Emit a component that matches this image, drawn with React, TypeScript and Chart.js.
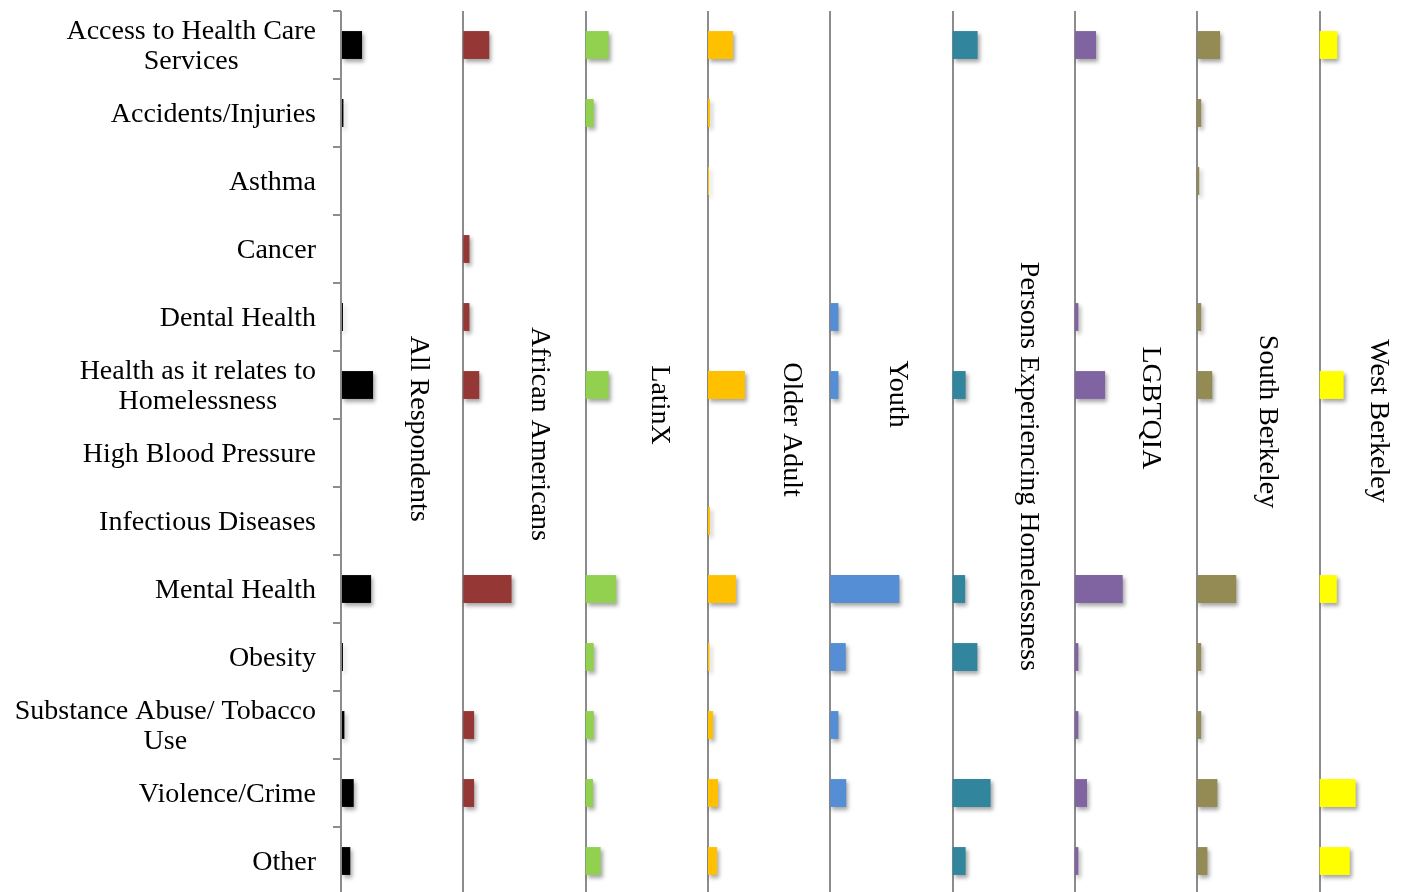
import React, { useEffect, useRef } from "react";
import { Chart, registerables } from "chart.js";

Chart.register(...registerables);

// Health issues (rows)
const categories: (string | string[])[] = [
  ["Access to Health Care", "Services"],
  "Accidents/Injuries",
  "Asthma",
  "Cancer",
  "Dental Health",
  ["Health as it relates to", "Homelessness"],
  "High Blood Pressure",
  "Infectious Diseases",
  "Mental Health",
  "Obesity",
  ["Substance Abuse/ Tobacco", "Use"],
  "Violence/Crime",
  "Other",
];

// Respondent groups (panels)
const groups = [
  "All Respondents",
  "African Americans",
  "LatinX",
  "Older Adult",
  "Youth",
  "Persons Experiencing Homelessness",
  "LGBTQIA",
  "South Berkeley",
  "West Berkeley",
];

const groupColors = [
  "#000000",
  "#953735",
  "#92D050",
  "#FFC000",
  "#558ED5",
  "#31859C",
  "#8064A2",
  "#948A54",
  "#FFFF00",
];

// Percent of respondents in each group
const allRespondents = [8.6, 1.0, 0, 0, 0.8, 13.1, 0, 0.4, 12.3, 0.8, 1.4, 5.2, 3.8];
const africanAmericans = [10.6, 0, 0, 2.5, 2.5, 6.5, 0, 0, 19.7, 0, 4.4, 4.4, 0];
const latinX = [9.4, 3.3, 0, 0, 0, 9.4, 0, 0, 12.5, 3.3, 3.3, 3.0, 6.1];
const olderAdult = [10.2, 0.8, 0.4, 0, 0, 15.1, 0, 0.8, 11.4, 0.6, 2.0, 4.1, 3.7];
const youth = [0, 0, 0, 0, 3.3, 3.3, 0, 0, 28.2, 6.3, 3.3, 6.5, 0];
const homeless = [10.2, 0, 0, 0, 0, 5.3, 0, 0, 5.1, 10.1, 0, 15.5, 5.3];
const lgbtqia = [8.6, 0, 0, 0, 1.4, 12.3, 0, 0, 19.5, 1.4, 1.4, 4.9, 1.4];
const southBerkeley = [9.3, 1.6, 0.8, 0, 1.6, 6.1, 0, 0, 15.9, 1.6, 1.6, 8.2, 4.1];
const westBerkeley = [7.2, 0, 0, 0, 0, 9.8, 0, 0, 7.0, 0, 0, 14.7, 12.3];

const seriesValues = [
  allRespondents,
  africanAmericans,
  latinX,
  olderAdult,
  youth,
  homeless,
  lgbtqia,
  southBerkeley,
  westBerkeley,
];

// Each panel spans this many percentage points on the shared x scale
const PANEL_SPAN = 50;

// Layout of the rotated panel titles: baseline as a fraction of the panel width,
// and text centre as a fraction of the plot height
const titleBaselineFrac = [0.572, 0.559, 0.54, 0.618, 0.488, 0.558, 0.556, 0.513, 0.419];
const titleCenterFrac = [0.4725, 0.4785, 0.4457, 0.4734, 0.4333, 0.5151, 0.449, 0.4644, 0.4638];

const FONT_FAMILY = '"Liberation Serif", "Times New Roman", serif';

const shadowPlugin = {
  id: "barShadow",
  beforeDatasetsDraw(chart: any) {
    const c = chart.ctx;
    c.save();
    c.shadowColor = "rgba(0,0,0,0.35)";
    c.shadowBlur = 4;
    c.shadowOffsetX = 2;
    c.shadowOffsetY = 3;
  },
  afterDatasetsDraw(chart: any) {
    chart.ctx.restore();
  },
};

const labelPlugin = {
  id: "panelLabels",
  afterDraw(chart: any) {
    const { ctx, chartArea, scales } = chart;
    const xs = scales.x;
    const ys = scales.y;
    ctx.save();
    ctx.fillStyle = "#000000";
    ctx.font = `28px ${FONT_FAMILY}`;
    ctx.textAlign = "center";
    ctx.textBaseline = "middle";
    const right = chartArea.left - 25;
    const lineHeight = 30;
    const nudge = 2;
    categories.forEach((lab, i) => {
      const lines = Array.isArray(lab) ? lab : [lab];
      const cy = ys.getPixelForValue(i) + nudge;
      const maxW = Math.max(...lines.map((l) => ctx.measureText(l).width));
      lines.forEach((l, j) => {
        ctx.fillText(l, right - maxW / 2, cy + (j - (lines.length - 1) / 2) * lineHeight);
      });
    });
    ctx.textBaseline = "alphabetic";
    groups.forEach((g, k) => {
      const px = xs.getPixelForValue(k * PANEL_SPAN + PANEL_SPAN * titleBaselineFrac[k]);
      const py = chartArea.top + chartArea.height * titleCenterFrac[k];
      ctx.save();
      ctx.translate(px, py);
      ctx.rotate(Math.PI / 2);
      ctx.fillText(g, 0, 0);
      ctx.restore();
    });
    ctx.restore();
  },
};

export default function App() {
  const canvasRef = useRef<HTMLCanvasElement | null>(null);

  useEffect(() => {
    if (!canvasRef.current) return;
    const datasets = groups.map((g, k) => ({
      label: g,
      data: seriesValues[k].map((v) => [k * PANEL_SPAN, k * PANEL_SPAN + v]),
      backgroundColor: groupColors[k],
      borderWidth: 0,
      grouped: false,
      categoryPercentage: 1,
      barPercentage: 0.41,
    }));
    const chart = new Chart(canvasRef.current, {
      type: "bar",
      data: {
        labels: categories as any,
        datasets: datasets as any,
      },
      options: {
        indexAxis: "y",
        animation: false,
        responsive: false,
        devicePixelRatio: 1,
        layout: { padding: { left: 0, right: 0, top: 11, bottom: 5 } },
        plugins: {
          legend: { display: false },
          tooltip: { enabled: false },
          title: { display: false },
        },
        scales: {
          x: {
            type: "linear",
            min: 0,
            max: PANEL_SPAN * groups.length,
            ticks: { display: false, stepSize: PANEL_SPAN },
            grid: {
              color: "#8c8c8c",
              lineWidth: 2,
              drawTicks: false,
            },
            border: { display: false },
            afterFit: (scale: any) => {
              scale.height = 0;
            },
          },
          y: {
            type: "category",
            offset: true,
            ticks: { display: false },
            grid: {
              offset: true,
              drawOnChartArea: false,
              drawTicks: true,
              tickLength: 8,
              tickColor: "#8c8c8c",
              tickWidth: 2,
              color: "#8c8c8c",
              lineWidth: 2,
            },
            border: { display: false },
            afterFit: (scale: any) => {
              scale.width = 341;
            },
          },
        },
      } as any,
      plugins: [shadowPlugin, labelPlugin],
    });
    return () => chart.destroy();
  }, []);

  return (
    <div
      style={{
        position: "fixed",
        left: 0,
        top: 0,
        width: 1406,
        height: 892,
        overflow: "hidden",
        background: "#ffffff",
      }}
    >
      <canvas
        ref={canvasRef}
        width={1442}
        height={900}
        style={{ position: "absolute", left: 0, top: 0, width: 1442, height: 900 }}
      />
    </div>
  );
}
